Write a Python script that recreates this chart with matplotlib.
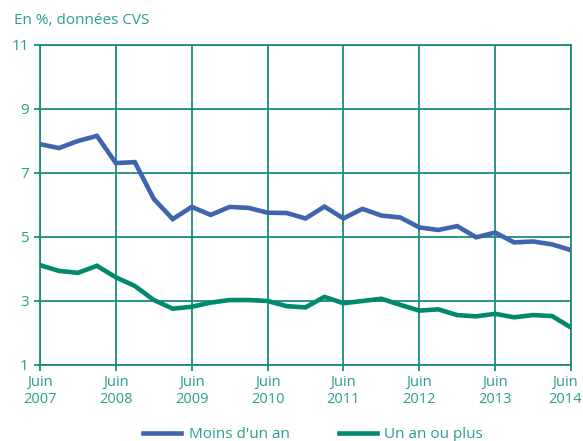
import matplotlib.pyplot as plt
import matplotlib.transforms as mtransforms

teal = "#1a8c7c"
text_teal = "#2a9d8f"

years = ["2007", "2008", "2009", "2010", "2011", "2012", "2013", "2014"]
tick_labels = ["Juin\n" + y for y in years]

# trimestres de juin 2007 à juin 2014
moins_un_an = [7.9, 7.78, 8.0, 8.16, 7.31, 7.34, 6.19, 5.56, 5.94, 5.69,
               5.94, 5.91, 5.76, 5.75, 5.58, 5.95, 5.58, 5.88, 5.67, 5.61,
               5.3, 5.22, 5.34, 4.99, 5.14, 4.83, 4.86, 4.77, 4.59]
un_an_ou_plus = [4.12, 3.94, 3.88, 4.1, 3.74, 3.47, 3.03, 2.76, 2.82, 2.95,
                 3.03, 3.03, 3.0, 2.84, 2.8, 3.13, 2.93, 3.0, 3.07, 2.88,
                 2.7, 2.74, 2.56, 2.52, 2.6, 2.49, 2.56, 2.53, 2.17]

plt.rcParams['font.family'] = ['Open Sans', 'DejaVu Sans']

fig = plt.figure(figsize=(5.83, 4.41), dpi=100)
ax = fig.add_axes([40 / 583, 76 / 441, 531 / 583, 320 / 441])

x = list(range(len(moins_un_an)))
ax.plot(x, moins_un_an, color="#3f64b0", lw=3.3, label="Moins d'un an",
        solid_joinstyle="miter", zorder=3)
ax.plot(x, un_an_ou_plus, color="#00896f", lw=3.3, label="Un an ou plus",
        solid_joinstyle="miter", zorder=3)

ax.set_xlim(0, 28)
ax.set_ylim(1, 11)
ax.set_xticks(range(0, 29, 4))
ax.set_xticklabels(tick_labels, linespacing=1.25)
ax.set_yticks([1, 3, 5, 7, 9, 11])

ax.grid(True, color=teal, lw=1.3)
for s in ax.spines.values():
    s.set_color(teal)
    s.set_linewidth(1.3)
ax.tick_params(colors=text_teal, labelsize=11, length=4, width=1.3)
ax.tick_params(axis="x", color=teal, pad=3, labelsize=10.5)
ax.tick_params(axis="y", color=teal, pad=4)

# le dernier libellé est un peu décalé vers la gauche pour rester dans l'image
last = ax.get_xticklabels()[-1]
last.set_transform(last.get_transform() +
                   mtransforms.ScaledTranslation(-6 / 100, 0, fig.dpi_scale_trans))

fig.text(14 / 583, 1 - 20 / 441, "En %, données CVS", color=text_teal,
         fontsize=11, va="center", ha="left")

ax.legend(loc="center", bbox_to_anchor=(313 / 583, 1 - 435 / 441),
          bbox_transform=fig.transFigure, ncol=2, frameon=False,
          fontsize=11, labelcolor=text_teal, handlelength=2.5,
          columnspacing=3.2, handletextpad=0.5)

fig.savefig("out.png", dpi=100)
